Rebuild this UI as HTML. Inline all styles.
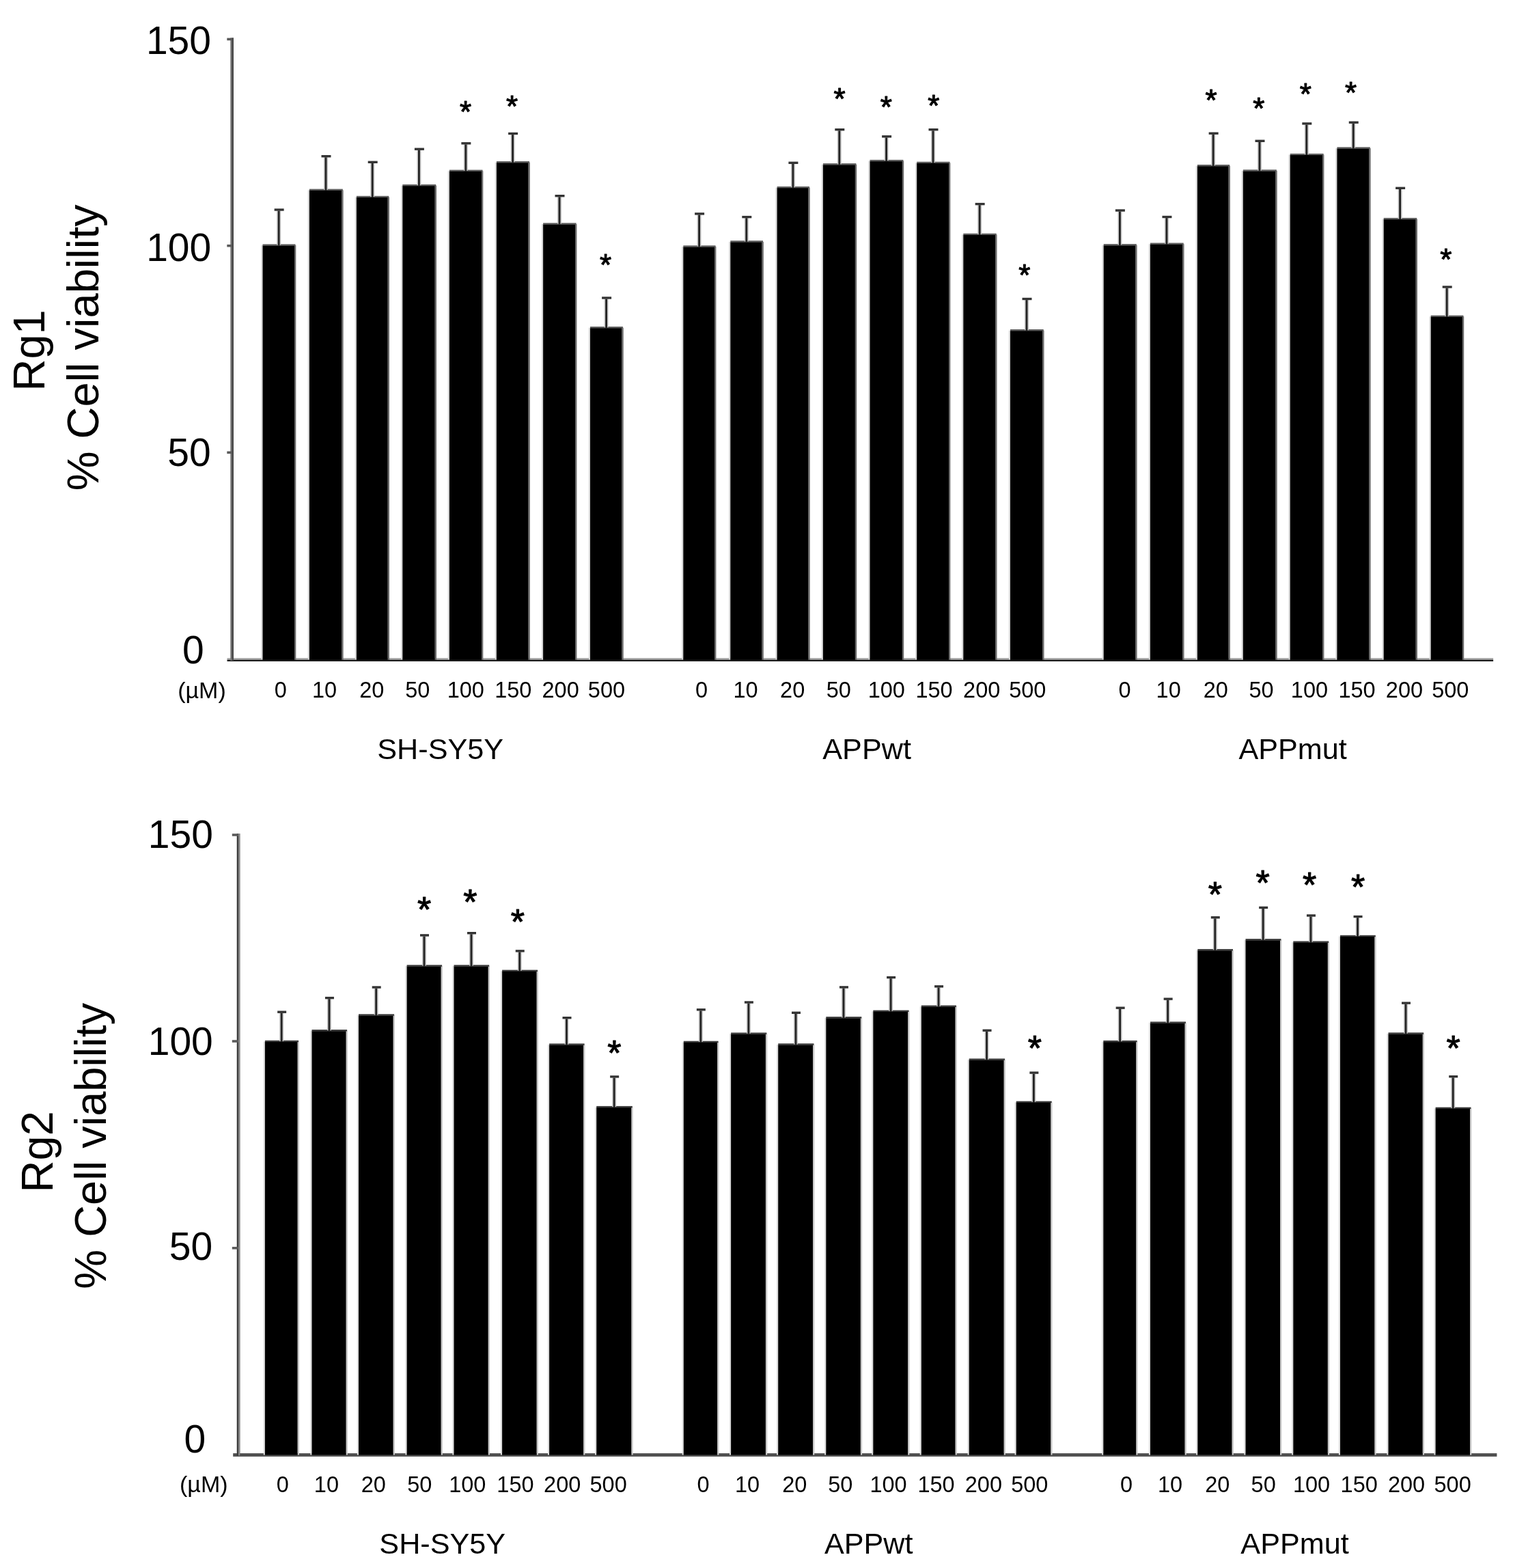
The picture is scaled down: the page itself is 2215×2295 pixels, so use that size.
<!DOCTYPE html>
<html><head><meta charset="utf-8"><title>Cell viability</title>
<style>
html,body{margin:0;padding:0;background:#fff;}
body{width:2215px;height:2295px;overflow:hidden;}
svg{display:block;}
text{font-family:"Liberation Sans",Arial,Helvetica,sans-serif;fill:#000;}
.b{fill:#000;stroke:#5a5a5a;stroke-width:1.2;}
.as{stroke:#000;stroke-width:1.1;stroke-linejoin:round;}
.eh{fill:none;stroke:#c4c4c4;stroke-width:6;}
.e{fill:none;stroke:#222;stroke-width:2.8;}
.c{fill:none;stroke:#333;stroke-width:3.4;}
.ax{fill:none;stroke:#5a5a5a;stroke-width:4.4;}
.tk{fill:none;stroke:#5a5a5a;stroke-width:3.6;}
</style></head><body>
<svg width="2215" height="2295" viewBox="0 0 2215 2295">
<rect fill="#a4a4a4" x="332.5" y="963.2" width="1853.6" height="2.6"/>
<rect fill="#d6d6d6" x="382.4" y="359.1" width="2.1" height="606.9"/>
<rect fill="#6a6a6a" x="431" y="359.1" width="2.3" height="606.9"/>
<rect fill="#5e5e5e" x="384.5" y="357.4" width="48" height="2.4"/>
<rect fill="#000" x="384.5" y="359.6" width="46.5" height="606.4"/>
<rect fill="#d6d6d6" x="450.8" y="278.3" width="2.1" height="687.7"/>
<rect fill="#6a6a6a" x="500.3" y="278.3" width="2.3" height="687.7"/>
<rect fill="#5e5e5e" x="452.9" y="276.6" width="48.9" height="2.4"/>
<rect fill="#000" x="452.9" y="278.8" width="47.4" height="687.2"/>
<rect fill="#d6d6d6" x="519.8" y="288.5" width="2.1" height="677.5"/>
<rect fill="#6a6a6a" x="567.7" y="288.5" width="2.3" height="677.5"/>
<rect fill="#5e5e5e" x="521.9" y="286.8" width="47.3" height="2.4"/>
<rect fill="#000" x="521.9" y="289" width="45.8" height="677"/>
<rect fill="#d6d6d6" x="587.2" y="271.6" width="2.1" height="694.4"/>
<rect fill="#6a6a6a" x="636.7" y="271.6" width="2.3" height="694.4"/>
<rect fill="#5e5e5e" x="589.3" y="269.9" width="48.9" height="2.4"/>
<rect fill="#000" x="589.3" y="272.1" width="47.4" height="693.9"/>
<rect fill="#d6d6d6" x="655.8" y="250.3" width="2.1" height="715.7"/>
<rect fill="#6a6a6a" x="705" y="250.3" width="2.3" height="715.7"/>
<rect fill="#5e5e5e" x="657.9" y="248.6" width="48.6" height="2.4"/>
<rect fill="#000" x="657.9" y="250.8" width="47.1" height="715.2"/>
<rect fill="#d6d6d6" x="724.8" y="237.7" width="2.1" height="728.3"/>
<rect fill="#6a6a6a" x="773.5" y="237.7" width="2.3" height="728.3"/>
<rect fill="#5e5e5e" x="726.9" y="236" width="48.1" height="2.4"/>
<rect fill="#000" x="726.9" y="238.2" width="46.6" height="727.8"/>
<rect fill="#d6d6d6" x="793" y="328" width="2.1" height="638"/>
<rect fill="#6a6a6a" x="842.1" y="328" width="2.3" height="638"/>
<rect fill="#5e5e5e" x="795.1" y="326.3" width="48.5" height="2.4"/>
<rect fill="#000" x="795.1" y="328.5" width="47" height="637.5"/>
<rect fill="#d6d6d6" x="861.9" y="479.7" width="2.1" height="486.3"/>
<rect fill="#6a6a6a" x="910.4" y="479.7" width="2.3" height="486.3"/>
<rect fill="#5e5e5e" x="864" y="478" width="47.9" height="2.4"/>
<rect fill="#000" x="864" y="480.2" width="46.4" height="485.8"/>
<rect fill="#d6d6d6" x="998.2" y="361" width="2.1" height="605"/>
<rect fill="#6a6a6a" x="1046.1" y="361" width="2.3" height="605"/>
<rect fill="#5e5e5e" x="1000.3" y="359.3" width="47.3" height="2.4"/>
<rect fill="#000" x="1000.3" y="361.5" width="45.8" height="604.5"/>
<rect fill="#d6d6d6" x="1067.2" y="353.9" width="2.1" height="612.1"/>
<rect fill="#6a6a6a" x="1115.5" y="353.9" width="2.3" height="612.1"/>
<rect fill="#5e5e5e" x="1069.3" y="352.2" width="47.7" height="2.4"/>
<rect fill="#000" x="1069.3" y="354.4" width="46.2" height="611.6"/>
<rect fill="#d6d6d6" x="1135.5" y="274.6" width="2.1" height="691.4"/>
<rect fill="#6a6a6a" x="1183.4" y="274.6" width="2.3" height="691.4"/>
<rect fill="#5e5e5e" x="1137.6" y="272.9" width="47.3" height="2.4"/>
<rect fill="#000" x="1137.6" y="275.1" width="45.8" height="690.9"/>
<rect fill="#d6d6d6" x="1202.8" y="240.8" width="2.1" height="725.2"/>
<rect fill="#6a6a6a" x="1251.9" y="240.8" width="2.3" height="725.2"/>
<rect fill="#5e5e5e" x="1204.9" y="239.1" width="48.5" height="2.4"/>
<rect fill="#000" x="1204.9" y="241.3" width="47" height="724.7"/>
<rect fill="#d6d6d6" x="1271.4" y="235.6" width="2.1" height="730.4"/>
<rect fill="#6a6a6a" x="1320.9" y="235.6" width="2.3" height="730.4"/>
<rect fill="#5e5e5e" x="1273.5" y="233.9" width="48.9" height="2.4"/>
<rect fill="#000" x="1273.5" y="236.1" width="47.4" height="729.9"/>
<rect fill="#d6d6d6" x="1340.1" y="238.4" width="2.1" height="727.6"/>
<rect fill="#6a6a6a" x="1389" y="238.4" width="2.3" height="727.6"/>
<rect fill="#5e5e5e" x="1342.2" y="236.7" width="48.3" height="2.4"/>
<rect fill="#000" x="1342.2" y="238.9" width="46.8" height="727.1"/>
<rect fill="#d6d6d6" x="1408.2" y="343.4" width="2.1" height="622.6"/>
<rect fill="#6a6a6a" x="1457.2" y="343.4" width="2.3" height="622.6"/>
<rect fill="#5e5e5e" x="1410.3" y="341.7" width="48.4" height="2.4"/>
<rect fill="#000" x="1410.3" y="343.9" width="46.9" height="622.1"/>
<rect fill="#d6d6d6" x="1476.9" y="483.7" width="2.1" height="482.3"/>
<rect fill="#6a6a6a" x="1526.2" y="483.7" width="2.3" height="482.3"/>
<rect fill="#5e5e5e" x="1479" y="482" width="48.7" height="2.4"/>
<rect fill="#000" x="1479" y="484.2" width="47.2" height="481.8"/>
<rect fill="#d6d6d6" x="1613.6" y="358.8" width="2.1" height="607.2"/>
<rect fill="#6a6a6a" x="1662.3" y="358.8" width="2.3" height="607.2"/>
<rect fill="#5e5e5e" x="1615.7" y="357.1" width="48.1" height="2.4"/>
<rect fill="#000" x="1615.7" y="359.3" width="46.6" height="606.7"/>
<rect fill="#d6d6d6" x="1681.8" y="357.2" width="2.1" height="608.8"/>
<rect fill="#6a6a6a" x="1731.2" y="357.2" width="2.3" height="608.8"/>
<rect fill="#5e5e5e" x="1683.9" y="355.5" width="48.8" height="2.4"/>
<rect fill="#000" x="1683.9" y="357.7" width="47.3" height="608.3"/>
<rect fill="#d6d6d6" x="1750.8" y="242.7" width="2.1" height="723.3"/>
<rect fill="#6a6a6a" x="1798.6" y="242.7" width="2.3" height="723.3"/>
<rect fill="#5e5e5e" x="1752.9" y="241" width="47.2" height="2.4"/>
<rect fill="#000" x="1752.9" y="243.2" width="45.7" height="722.8"/>
<rect fill="#d6d6d6" x="1817.7" y="250" width="2.1" height="716"/>
<rect fill="#6a6a6a" x="1867.4" y="250" width="2.3" height="716"/>
<rect fill="#5e5e5e" x="1819.8" y="248.3" width="49.1" height="2.4"/>
<rect fill="#000" x="1819.8" y="250.5" width="47.6" height="715.5"/>
<rect fill="#d6d6d6" x="1886.6" y="226.5" width="2.1" height="739.5"/>
<rect fill="#6a6a6a" x="1936.1" y="226.5" width="2.3" height="739.5"/>
<rect fill="#5e5e5e" x="1888.7" y="224.8" width="48.9" height="2.4"/>
<rect fill="#000" x="1888.7" y="227" width="47.4" height="739"/>
<rect fill="#d6d6d6" x="1955.3" y="217" width="2.1" height="749"/>
<rect fill="#6a6a6a" x="2004.3" y="217" width="2.3" height="749"/>
<rect fill="#5e5e5e" x="1957.4" y="215.3" width="48.4" height="2.4"/>
<rect fill="#000" x="1957.4" y="217.5" width="46.9" height="748.5"/>
<rect fill="#d6d6d6" x="2023.6" y="320.6" width="2.1" height="645.4"/>
<rect fill="#6a6a6a" x="2072.7" y="320.6" width="2.3" height="645.4"/>
<rect fill="#5e5e5e" x="2025.7" y="318.9" width="48.5" height="2.4"/>
<rect fill="#000" x="2025.7" y="321.1" width="47" height="644.9"/>
<rect fill="#d6d6d6" x="2092.6" y="463.3" width="2.1" height="502.7"/>
<rect fill="#6a6a6a" x="2140.9" y="463.3" width="2.3" height="502.7"/>
<rect fill="#5e5e5e" x="2094.7" y="461.6" width="47.7" height="2.4"/>
<rect fill="#000" x="2094.7" y="463.8" width="46.2" height="502.2"/>
<path class="eh" d="M408.15 358.6V308.6"/>
<path class="e" d="M408.15 359.6V308.6"/>
<path class="c" d="M401.65 307H415.65"/>
<path class="eh" d="M477 277.8V230.3"/>
<path class="e" d="M477 278.8V230.3"/>
<path class="c" d="M470.5 228.7H484.5"/>
<path class="eh" d="M545.2 288V238.9"/>
<path class="e" d="M545.2 289V238.9"/>
<path class="c" d="M538.7 237.3H552.7"/>
<path class="eh" d="M613.4 271.1V219.8"/>
<path class="e" d="M613.4 272.1V219.8"/>
<path class="c" d="M606.9 218.2H620.9"/>
<path class="eh" d="M681.85 249.8V211.4"/>
<path class="e" d="M681.85 250.8V211.4"/>
<path class="c" d="M675.35 209.8H689.35"/>
<path class="eh" d="M750.6 237.2V197.1"/>
<path class="e" d="M750.6 238.2V197.1"/>
<path class="c" d="M744.1 195.5H758.1"/>
<path class="eh" d="M819 327.5V288.3"/>
<path class="e" d="M819 328.5V288.3"/>
<path class="c" d="M812.5 286.7H826.5"/>
<path class="eh" d="M887.6 479.2V437.6"/>
<path class="e" d="M887.6 480.2V437.6"/>
<path class="c" d="M881.1 436H895.1"/>
<path class="eh" d="M1023.6 360.5V314.5"/>
<path class="e" d="M1023.6 361.5V314.5"/>
<path class="c" d="M1017.1 312.9H1031.1"/>
<path class="eh" d="M1092.8 353.4V319.2"/>
<path class="e" d="M1092.8 354.4V319.2"/>
<path class="c" d="M1086.3 317.6H1100.3"/>
<path class="eh" d="M1160.9 274.1V239.9"/>
<path class="e" d="M1160.9 275.1V239.9"/>
<path class="c" d="M1154.4 238.3H1168.4"/>
<path class="eh" d="M1228.8 240.3V191.3"/>
<path class="e" d="M1228.8 241.3V191.3"/>
<path class="c" d="M1222.3 189.7H1236.3"/>
<path class="eh" d="M1297.6 235.1V201.4"/>
<path class="e" d="M1297.6 236.1V201.4"/>
<path class="c" d="M1291.1 199.8H1305.1"/>
<path class="eh" d="M1366 237.9V191.3"/>
<path class="e" d="M1366 238.9V191.3"/>
<path class="c" d="M1359.5 189.7H1373.5"/>
<path class="eh" d="M1434.15 342.9V300.2"/>
<path class="e" d="M1434.15 343.9V300.2"/>
<path class="c" d="M1427.65 298.6H1441.65"/>
<path class="eh" d="M1503 483.2V439.1"/>
<path class="e" d="M1503 484.2V439.1"/>
<path class="c" d="M1496.5 437.5H1510.5"/>
<path class="eh" d="M1639.4 358.3V309.6"/>
<path class="e" d="M1639.4 359.3V309.6"/>
<path class="c" d="M1632.9 308H1646.9"/>
<path class="eh" d="M1707.95 356.7V319.1"/>
<path class="e" d="M1707.95 357.7V319.1"/>
<path class="c" d="M1701.45 317.5H1715.45"/>
<path class="eh" d="M1776.15 242.2V196.8"/>
<path class="e" d="M1776.15 243.2V196.8"/>
<path class="c" d="M1769.65 195.2H1783.65"/>
<path class="eh" d="M1844 249.5V207.9"/>
<path class="e" d="M1844 250.5V207.9"/>
<path class="c" d="M1837.5 206.3H1851.5"/>
<path class="eh" d="M1912.8 226V182.5"/>
<path class="e" d="M1912.8 227V182.5"/>
<path class="c" d="M1906.3 180.9H1920.3"/>
<path class="eh" d="M1981.25 216.5V180.8"/>
<path class="e" d="M1981.25 217.5V180.8"/>
<path class="c" d="M1974.75 179.2H1988.75"/>
<path class="eh" d="M2049.6 320.1V276.9"/>
<path class="e" d="M2049.6 321.1V276.9"/>
<path class="c" d="M2043.1 275.3H2057.1"/>
<path class="eh" d="M2118.2 462.8V421.6"/>
<path class="e" d="M2118.2 463.8V421.6"/>
<path class="c" d="M2111.7 420H2125.7"/>
<text x="672.88" y="178.85" font-size="44" class="as">*</text>
<text x="741.08" y="171.3" font-size="44" class="as">*</text>
<text x="877.98" y="403.2" font-size="44" class="as">*</text>
<text x="1220.43" y="160.45" font-size="44" class="as">*</text>
<text x="1288.68" y="171.7" font-size="44" class="as">*</text>
<text x="1358.18" y="169.95" font-size="44" class="as">*</text>
<text x="1491.13" y="417.95" font-size="44" class="as">*</text>
<text x="1764.48" y="162.4" font-size="44" class="as">*</text>
<text x="1834.18" y="173.95" font-size="44" class="as">*</text>
<text x="1902.83" y="153.05" font-size="44" class="as">*</text>
<text x="1969.03" y="151.25" font-size="44" class="as">*</text>
<text x="2108.18" y="394.95" font-size="44" class="as">*</text>
<rect fill="#1c1c1c" x="332.5" y="965.7" width="1853.6" height="2.3"/>
<rect fill="#727272" x="337.3" y="55.4" width="4.6" height="911.6"/>
<rect fill="#474747" x="339.6" y="55.4" width="2.3" height="911.6"/>
<path class="tk" d="M332.3 57.4H339.6"/>
<path class="tk" d="M332.3 359.7H339.6"/>
<path class="tk" d="M332.3 662.3H339.6"/>
<text x="213.89" y="78.97" font-size="57">150</text>
<text x="214.14" y="381.67" font-size="57">100</text>
<text x="245.27" y="682.22" font-size="57">50</text>
<text x="266.9" y="970.92" font-size="57">0</text>
<text x="260.17" y="1021.74" font-size="34">(µM)</text>
<text x="401.81" y="1021.34" font-size="32.5">0</text>
<text x="457.02" y="1021.34" font-size="32.5">10</text>
<text x="526.14" y="1021.34" font-size="32.5">20</text>
<text x="593.21" y="1021.34" font-size="32.5">50</text>
<text x="654.68" y="1021.34" font-size="32.5">100</text>
<text x="724.13" y="1021.34" font-size="32.5">150</text>
<text x="793.56" y="1021.34" font-size="32.5">200</text>
<text x="860.87" y="1021.34" font-size="32.5">500</text>
<text x="1017.91" y="1021.34" font-size="32.5">0</text>
<text x="1073.42" y="1021.34" font-size="32.5">10</text>
<text x="1142.09" y="1021.34" font-size="32.5">20</text>
<text x="1209.66" y="1021.34" font-size="32.5">50</text>
<text x="1270.73" y="1021.34" font-size="32.5">100</text>
<text x="1340.43" y="1021.34" font-size="32.5">150</text>
<text x="1410.11" y="1021.34" font-size="32.5">200</text>
<text x="1477.17" y="1021.34" font-size="32.5">500</text>
<text x="1637.46" y="1021.34" font-size="32.5">0</text>
<text x="1692.62" y="1021.34" font-size="32.5">10</text>
<text x="1761.79" y="1021.34" font-size="32.5">20</text>
<text x="1828.51" y="1021.34" font-size="32.5">50</text>
<text x="1889.83" y="1021.34" font-size="32.5">100</text>
<text x="1959.43" y="1021.34" font-size="32.5">150</text>
<text x="2028.86" y="1021.34" font-size="32.5">200</text>
<text x="2096.17" y="1021.34" font-size="32.5">500</text>
<text x="552.31" y="1111.42" font-size="43.2">SH-SY5Y</text>
<text x="1204.29" y="1111.24" font-size="43.2">APPwt</text>
<text x="1813.39" y="1111.2" font-size="43.2">APPmut</text>
<text transform="translate(143.61 718.3) rotate(-90)" font-size="65">% Cell viability</text>
<text transform="translate(64.77 572.5) rotate(-90)" font-size="65">Rg1</text>
<rect fill="#4f4f4f" x="341.2" y="2127.1" width="1850.2" height="4.8"/>
<rect fill="#dcdcdc" x="385.8" y="1524.5" width="2.1" height="605"/>
<rect fill="#c8c8c8" x="435.6" y="1524.5" width="2.3" height="605"/>
<rect fill="#3a3a3a" x="387.9" y="1522.8" width="49.2" height="2.4"/>
<rect fill="#000" x="387.9" y="1525" width="47.7" height="604.5"/>
<rect fill="#dcdcdc" x="454.4" y="1508.7" width="2.1" height="620.8"/>
<rect fill="#c8c8c8" x="506.6" y="1508.7" width="2.3" height="620.8"/>
<rect fill="#3a3a3a" x="456.5" y="1507" width="51.6" height="2.4"/>
<rect fill="#000" x="456.5" y="1509.2" width="50.1" height="620.3"/>
<rect fill="#dcdcdc" x="522.9" y="1486" width="2.1" height="643.5"/>
<rect fill="#c8c8c8" x="575.6" y="1486" width="2.3" height="643.5"/>
<rect fill="#3a3a3a" x="525" y="1484.3" width="52.1" height="2.4"/>
<rect fill="#000" x="525" y="1486.5" width="50.6" height="643"/>
<rect fill="#dcdcdc" x="593.5" y="1414" width="2.1" height="715.5"/>
<rect fill="#c8c8c8" x="645.6" y="1414" width="2.3" height="715.5"/>
<rect fill="#3a3a3a" x="595.6" y="1412.3" width="51.5" height="2.4"/>
<rect fill="#000" x="595.6" y="1414.5" width="50" height="715"/>
<rect fill="#dcdcdc" x="662.4" y="1414" width="2.1" height="715.5"/>
<rect fill="#c8c8c8" x="714.7" y="1414" width="2.3" height="715.5"/>
<rect fill="#3a3a3a" x="664.5" y="1412.3" width="51.7" height="2.4"/>
<rect fill="#000" x="664.5" y="1414.5" width="50.2" height="715"/>
<rect fill="#dcdcdc" x="733" y="1421.3" width="2.1" height="708.2"/>
<rect fill="#c8c8c8" x="785.6" y="1421.3" width="2.3" height="708.2"/>
<rect fill="#3a3a3a" x="735.1" y="1419.6" width="52" height="2.4"/>
<rect fill="#000" x="735.1" y="1421.8" width="50.5" height="707.7"/>
<rect fill="#dcdcdc" x="802" y="1529.1" width="2.1" height="600.4"/>
<rect fill="#c8c8c8" x="854.1" y="1529.1" width="2.3" height="600.4"/>
<rect fill="#3a3a3a" x="804.1" y="1527.4" width="51.5" height="2.4"/>
<rect fill="#000" x="804.1" y="1529.6" width="50" height="599.9"/>
<rect fill="#dcdcdc" x="871.1" y="1620.6" width="2.1" height="508.9"/>
<rect fill="#c8c8c8" x="924.3" y="1620.6" width="2.3" height="508.9"/>
<rect fill="#3a3a3a" x="873.2" y="1618.9" width="52.6" height="2.4"/>
<rect fill="#000" x="873.2" y="1621.1" width="51.1" height="508.4"/>
<rect fill="#dcdcdc" x="998.7" y="1525.4" width="2.1" height="604.1"/>
<rect fill="#c8c8c8" x="1050.1" y="1525.4" width="2.3" height="604.1"/>
<rect fill="#3a3a3a" x="1000.8" y="1523.7" width="50.8" height="2.4"/>
<rect fill="#000" x="1000.8" y="1525.9" width="49.3" height="603.6"/>
<rect fill="#dcdcdc" x="1068" y="1513.1" width="2.1" height="616.4"/>
<rect fill="#c8c8c8" x="1120.9" y="1513.1" width="2.3" height="616.4"/>
<rect fill="#3a3a3a" x="1070.1" y="1511.4" width="52.3" height="2.4"/>
<rect fill="#000" x="1070.1" y="1513.6" width="50.8" height="615.9"/>
<rect fill="#dcdcdc" x="1137.1" y="1529" width="2.1" height="600.5"/>
<rect fill="#c8c8c8" x="1190" y="1529" width="2.3" height="600.5"/>
<rect fill="#3a3a3a" x="1139.2" y="1527.3" width="52.3" height="2.4"/>
<rect fill="#000" x="1139.2" y="1529.5" width="50.8" height="600"/>
<rect fill="#dcdcdc" x="1207.2" y="1489.8" width="2.1" height="639.7"/>
<rect fill="#c8c8c8" x="1259.8" y="1489.8" width="2.3" height="639.7"/>
<rect fill="#3a3a3a" x="1209.3" y="1488.1" width="52" height="2.4"/>
<rect fill="#000" x="1209.3" y="1490.3" width="50.5" height="639.2"/>
<rect fill="#dcdcdc" x="1276.2" y="1480.3" width="2.1" height="649.2"/>
<rect fill="#c8c8c8" x="1329.1" y="1480.3" width="2.3" height="649.2"/>
<rect fill="#3a3a3a" x="1278.3" y="1478.6" width="52.3" height="2.4"/>
<rect fill="#000" x="1278.3" y="1480.8" width="50.8" height="648.7"/>
<rect fill="#dcdcdc" x="1346.7" y="1473.2" width="2.1" height="656.3"/>
<rect fill="#c8c8c8" x="1398.5" y="1473.2" width="2.3" height="656.3"/>
<rect fill="#3a3a3a" x="1348.8" y="1471.5" width="51.2" height="2.4"/>
<rect fill="#000" x="1348.8" y="1473.7" width="49.7" height="655.8"/>
<rect fill="#dcdcdc" x="1416.6" y="1551.1" width="2.1" height="578.4"/>
<rect fill="#c8c8c8" x="1469.6" y="1551.1" width="2.3" height="578.4"/>
<rect fill="#3a3a3a" x="1418.7" y="1549.4" width="52.4" height="2.4"/>
<rect fill="#000" x="1418.7" y="1551.6" width="50.9" height="577.9"/>
<rect fill="#dcdcdc" x="1485.6" y="1613.4" width="2.1" height="516.1"/>
<rect fill="#c8c8c8" x="1538.2" y="1613.4" width="2.3" height="516.1"/>
<rect fill="#3a3a3a" x="1487.7" y="1611.7" width="52" height="2.4"/>
<rect fill="#000" x="1487.7" y="1613.9" width="50.5" height="515.6"/>
<rect fill="#dcdcdc" x="1613.2" y="1524.6" width="2.1" height="604.9"/>
<rect fill="#c8c8c8" x="1663.2" y="1524.6" width="2.3" height="604.9"/>
<rect fill="#3a3a3a" x="1615.3" y="1522.9" width="49.4" height="2.4"/>
<rect fill="#000" x="1615.3" y="1525.1" width="47.9" height="604.4"/>
<rect fill="#dcdcdc" x="1681.9" y="1497.1" width="2.1" height="632.4"/>
<rect fill="#c8c8c8" x="1734.5" y="1497.1" width="2.3" height="632.4"/>
<rect fill="#3a3a3a" x="1684" y="1495.4" width="52" height="2.4"/>
<rect fill="#000" x="1684" y="1497.6" width="50.5" height="631.9"/>
<rect fill="#dcdcdc" x="1751.2" y="1390.8" width="2.1" height="738.7"/>
<rect fill="#c8c8c8" x="1803.5" y="1390.8" width="2.3" height="738.7"/>
<rect fill="#3a3a3a" x="1753.3" y="1389.1" width="51.7" height="2.4"/>
<rect fill="#000" x="1753.3" y="1391.3" width="50.2" height="738.2"/>
<rect fill="#dcdcdc" x="1821.4" y="1375.8" width="2.1" height="753.7"/>
<rect fill="#c8c8c8" x="1874" y="1375.8" width="2.3" height="753.7"/>
<rect fill="#3a3a3a" x="1823.5" y="1374.1" width="52" height="2.4"/>
<rect fill="#000" x="1823.5" y="1376.3" width="50.5" height="753.2"/>
<rect fill="#dcdcdc" x="1891.2" y="1379.2" width="2.1" height="750.3"/>
<rect fill="#c8c8c8" x="1943.8" y="1379.2" width="2.3" height="750.3"/>
<rect fill="#3a3a3a" x="1893.3" y="1377.5" width="52" height="2.4"/>
<rect fill="#000" x="1893.3" y="1379.7" width="50.5" height="749.8"/>
<rect fill="#dcdcdc" x="1959.9" y="1370.5" width="2.1" height="759"/>
<rect fill="#c8c8c8" x="2012.3" y="1370.5" width="2.3" height="759"/>
<rect fill="#3a3a3a" x="1962" y="1368.8" width="51.8" height="2.4"/>
<rect fill="#000" x="1962" y="1371" width="50.3" height="758.5"/>
<rect fill="#dcdcdc" x="2030.4" y="1513" width="2.1" height="616.5"/>
<rect fill="#c8c8c8" x="2082.7" y="1513" width="2.3" height="616.5"/>
<rect fill="#3a3a3a" x="2032.5" y="1511.3" width="51.7" height="2.4"/>
<rect fill="#000" x="2032.5" y="1513.5" width="50.2" height="616"/>
<rect fill="#dcdcdc" x="2099.5" y="1622.3" width="2.1" height="507.2"/>
<rect fill="#c8c8c8" x="2152" y="1622.3" width="2.3" height="507.2"/>
<rect fill="#3a3a3a" x="2101.6" y="1620.6" width="51.9" height="2.4"/>
<rect fill="#000" x="2101.6" y="1622.8" width="50.4" height="506.7"/>
<path class="eh" d="M412.15 1524V1482.8"/>
<path class="e" d="M412.15 1525V1482.8"/>
<path class="c" d="M406.15 1481.2H419.15"/>
<path class="eh" d="M481.95 1508.2V1462.2"/>
<path class="e" d="M481.95 1509.2V1462.2"/>
<path class="c" d="M475.95 1460.6H488.95"/>
<path class="eh" d="M550.7 1485.5V1446.6"/>
<path class="e" d="M550.7 1486.5V1446.6"/>
<path class="c" d="M544.7 1445H557.7"/>
<path class="eh" d="M621 1413.5V1370.5"/>
<path class="e" d="M621 1414.5V1370.5"/>
<path class="c" d="M615 1368.9H628"/>
<path class="eh" d="M690 1413.5V1367.3"/>
<path class="e" d="M690 1414.5V1367.3"/>
<path class="c" d="M684 1365.7H697"/>
<path class="eh" d="M760.75 1420.8V1393.5"/>
<path class="e" d="M760.75 1421.8V1393.5"/>
<path class="c" d="M754.75 1391.9H767.75"/>
<path class="eh" d="M829.5 1528.6V1491.3"/>
<path class="e" d="M829.5 1529.6V1491.3"/>
<path class="c" d="M823.5 1489.7H836.5"/>
<path class="eh" d="M899.15 1620.1V1577.5"/>
<path class="e" d="M899.15 1621.1V1577.5"/>
<path class="c" d="M893.15 1575.9H906.15"/>
<path class="eh" d="M1025.85 1524.9V1479.4"/>
<path class="e" d="M1025.85 1525.9V1479.4"/>
<path class="c" d="M1019.85 1477.8H1032.85"/>
<path class="eh" d="M1095.9 1512.6V1468.6"/>
<path class="e" d="M1095.9 1513.6V1468.6"/>
<path class="c" d="M1089.9 1467H1102.9"/>
<path class="eh" d="M1165 1528.5V1483.9"/>
<path class="e" d="M1165 1529.5V1483.9"/>
<path class="c" d="M1159 1482.3H1172"/>
<path class="eh" d="M1234.95 1489.3V1446.5"/>
<path class="e" d="M1234.95 1490.3V1446.5"/>
<path class="c" d="M1228.95 1444.9H1241.95"/>
<path class="eh" d="M1304.1 1479.8V1432.2"/>
<path class="e" d="M1304.1 1480.8V1432.2"/>
<path class="c" d="M1298.1 1430.6H1311.1"/>
<path class="eh" d="M1374.05 1472.7V1445.4"/>
<path class="e" d="M1374.05 1473.7V1445.4"/>
<path class="c" d="M1368.05 1443.8H1381.05"/>
<path class="eh" d="M1444.55 1550.6V1509.8"/>
<path class="e" d="M1444.55 1551.6V1509.8"/>
<path class="c" d="M1438.55 1508.2H1451.55"/>
<path class="eh" d="M1513.35 1612.9V1571.7"/>
<path class="e" d="M1513.35 1613.9V1571.7"/>
<path class="c" d="M1507.35 1570.1H1520.35"/>
<path class="eh" d="M1639.65 1524.1V1476.8"/>
<path class="e" d="M1639.65 1525.1V1476.8"/>
<path class="c" d="M1633.65 1475.2H1646.65"/>
<path class="eh" d="M1709.65 1496.6V1463.7"/>
<path class="e" d="M1709.65 1497.6V1463.7"/>
<path class="c" d="M1703.65 1462.1H1716.65"/>
<path class="eh" d="M1778.8 1390.3V1344.4"/>
<path class="e" d="M1778.8 1391.3V1344.4"/>
<path class="c" d="M1772.8 1342.8H1785.8"/>
<path class="eh" d="M1849.15 1375.3V1330"/>
<path class="e" d="M1849.15 1376.3V1330"/>
<path class="c" d="M1843.15 1328.4H1856.15"/>
<path class="eh" d="M1918.95 1378.7V1341.6"/>
<path class="e" d="M1918.95 1379.7V1341.6"/>
<path class="c" d="M1912.95 1340H1925.95"/>
<path class="eh" d="M1987.55 1370V1343.2"/>
<path class="e" d="M1987.55 1371V1343.2"/>
<path class="c" d="M1981.55 1341.6H1994.55"/>
<path class="eh" d="M2058 1512.5V1469.7"/>
<path class="e" d="M2058 1513.5V1469.7"/>
<path class="c" d="M2052 1468.1H2065"/>
<path class="eh" d="M2127.2 1621.8V1577.3"/>
<path class="e" d="M2127.2 1622.8V1577.3"/>
<path class="c" d="M2121.2 1575.7H2134.2"/>
<text x="611.07" y="1349.3" font-size="52" class="as">*</text>
<text x="678.32" y="1337.55" font-size="52" class="as">*</text>
<text x="747.87" y="1366.95" font-size="52" class="as">*</text>
<text x="889.17" y="1558.8" font-size="52" class="as">*</text>
<text x="1504.67" y="1551.95" font-size="52" class="as">*</text>
<text x="1768.77" y="1326.8" font-size="52" class="as">*</text>
<text x="1838.52" y="1310.45" font-size="52" class="as">*</text>
<text x="1907.07" y="1313.15" font-size="52" class="as">*</text>
<text x="1978.02" y="1316.3" font-size="52" class="as">*</text>
<text x="2117.62" y="1552.3" font-size="52" class="as">*</text>
<rect fill="#3c3c3c" x="346.7" y="1220" width="4.6" height="910.5"/>
<rect fill="#888888" x="349" y="1220" width="2.3" height="910.5"/>
<path class="tk" d="M339.8 1222H349"/>
<path class="tk" d="M339.8 1524H349"/>
<path class="tk" d="M339.8 1826.7H349"/>
<text x="216.79" y="1240.62" font-size="57">150</text>
<text x="216.69" y="1543.62" font-size="57">100</text>
<text x="247.87" y="1844.12" font-size="57">50</text>
<text x="269.6" y="2125.67" font-size="57">0</text>
<text x="263.02" y="2184.09" font-size="34">(µM)</text>
<text x="404.71" y="2183.54" font-size="32.5">0</text>
<text x="459.87" y="2183.54" font-size="32.5">10</text>
<text x="528.79" y="2183.54" font-size="32.5">20</text>
<text x="596.16" y="2183.54" font-size="32.5">50</text>
<text x="657.23" y="2183.54" font-size="32.5">100</text>
<text x="727.33" y="2183.54" font-size="32.5">150</text>
<text x="796.11" y="2183.54" font-size="32.5">200</text>
<text x="863.52" y="2183.54" font-size="32.5">500</text>
<text x="1020.51" y="2183.54" font-size="32.5">0</text>
<text x="1075.92" y="2183.54" font-size="32.5">10</text>
<text x="1145.19" y="2183.54" font-size="32.5">20</text>
<text x="1212.16" y="2183.54" font-size="32.5">50</text>
<text x="1273.38" y="2183.54" font-size="32.5">100</text>
<text x="1343.43" y="2183.54" font-size="32.5">150</text>
<text x="1412.81" y="2183.54" font-size="32.5">200</text>
<text x="1480.17" y="2183.54" font-size="32.5">500</text>
<text x="1640.01" y="2183.54" font-size="32.5">0</text>
<text x="1694.97" y="2183.54" font-size="32.5">10</text>
<text x="1764.29" y="2183.54" font-size="32.5">20</text>
<text x="1831.61" y="2183.54" font-size="32.5">50</text>
<text x="1892.88" y="2183.54" font-size="32.5">100</text>
<text x="1962.58" y="2183.54" font-size="32.5">150</text>
<text x="2031.96" y="2183.54" font-size="32.5">200</text>
<text x="2099.52" y="2183.54" font-size="32.5">500</text>
<text x="555.36" y="2274.42" font-size="43.2">SH-SY5Y</text>
<text x="1206.89" y="2274.24" font-size="43.2">APPwt</text>
<text x="1816.34" y="2274.2" font-size="43.2">APPmut</text>
<text transform="translate(155.16 1886.7) rotate(-90)" font-size="65">% Cell viability</text>
<text transform="translate(76.7 1745.45) rotate(-90)" font-size="65">Rg2</text>
</svg>
</body></html>
